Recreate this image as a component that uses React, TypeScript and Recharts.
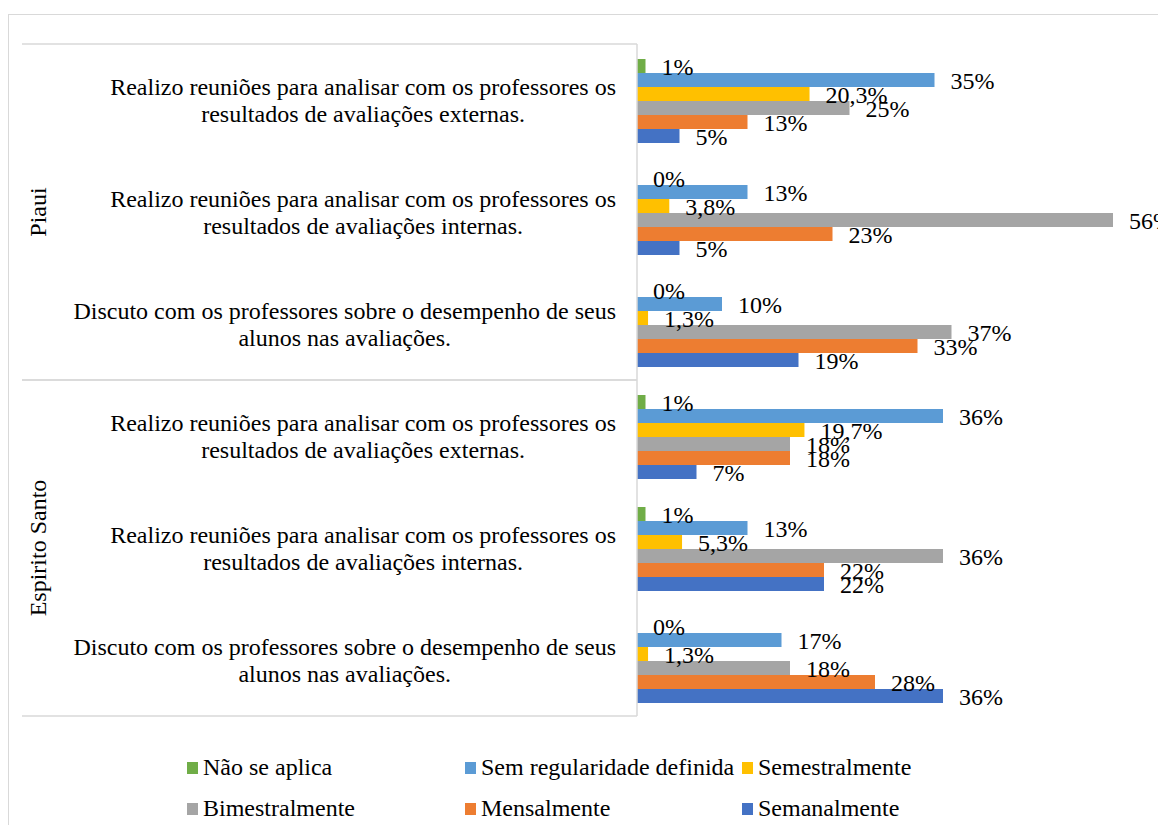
import React from "react";
import { BarChart, Bar, XAxis, YAxis, LabelList } from "recharts";

// categories (top to bottom), with line break for the two-line axis labels
const categoryIds = ["pi-ext", "pi-int", "pi-disc", "es-ext", "es-int", "es-disc"];
const categoryLabels = [
  "Realizo reuniões para analisar com os professores os\nresultados de avaliações externas.",
  "Realizo reuniões para analisar com os professores os\nresultados de avaliações internas.",
  "Discuto com os professores sobre o desempenho de seus\nalunos nas avaliações.",
  "Realizo reuniões para analisar com os professores os\nresultados de avaliações externas.",
  "Realizo reuniões para analisar com os professores os\nresultados de avaliações internas.",
  "Discuto com os professores sobre o desempenho de seus\nalunos nas avaliações.",
];
const categoryState = ["Piaui", "Piaui", "Piaui", "Espirito Santo", "Espirito Santo", "Espirito Santo"];

// series values (%), one entry per category
const naoSeAplica = [1, 0, 0, 1, 1, 0];
const semRegularidade = [35, 13, 10, 36, 13, 17];
const semestralmente = [20.3, 3.8, 1.3, 19.7, 5.3, 1.3];
const bimestralmente = [25, 56, 37, 18, 36, 18];
const mensalmente = [13, 23, 33, 18, 22, 28];
const semanalmente = [5, 5, 19, 7, 22, 36];

const series = [
  { key: "nao", name: "Não se aplica", color: "#70AD47", values: naoSeAplica },
  { key: "sem", name: "Sem regularidade definida", color: "#5B9BD5", values: semRegularidade },
  { key: "semestral", name: "Semestralmente", color: "#FFC000", values: semestralmente },
  { key: "bimestral", name: "Bimestralmente", color: "#A5A5A5", values: bimestralmente },
  { key: "mensal", name: "Mensalmente", color: "#ED7D31", values: mensalmente },
  { key: "semanal", name: "Semanalmente", color: "#4472C4", values: semanalmente },
];

const data = categoryIds.map((id, i) => {
  const row: Record<string, string | number> = { id };
  series.forEach((s) => (row[s.key] = s.values[i]));
  return row;
});

const FONT = "'Liberation Serif', 'Times New Roman', serif";
const FS = 24;
const W = 1157;
const H = 810;
const MARGIN = { top: 29, right: 53, bottom: 109, left: 0 };
const AXIS_W = 628;
const BAND = (H - MARGIN.top - MARGIN.bottom) / categoryIds.length;
const LINE = "#d9d9d9";

let ctx: CanvasRenderingContext2D | null = null;
function textWidth(s: string) {
  if (!ctx) ctx = document.createElement("canvas").getContext("2d");
  if (!ctx) return s.length * 11;
  ctx.font = `${FS}px 'Liberation Serif'`;
  return ctx.measureText(s).width;
}

const fmt = (v: any) => `${String(v).replace(".", ",")}%`;

function CategoryTick(props: any) {
  const { y, payload } = props;
  const idx = categoryIds.indexOf(payload.value);
  const lines = categoryLabels[idx].split("\n");
  const right = AXIS_W - 21;
  const blockW = Math.max(...lines.map(textWidth));
  const cx = right - blockW / 2;
  const state = categoryState[idx];
  const members = categoryState.map((s, i) => (s === state ? i : -1)).filter((i) => i >= 0);
  const first = members[0] === idx;
  const last = members[members.length - 1] === idx;
  const mid = members.reduce((a, b) => a + b, 0) / members.length;
  const showState = Math.floor(mid) === idx;
  return (
    <g>
      {lines.map((l, i) => (
        <text
          key={i}
          x={cx}
          y={y + (i - (lines.length - 1) / 2) * 27}
          textAnchor="middle"
          dominantBaseline="central"
          fontFamily={FONT}
          fontSize={FS}
          fill="#000"
        >
          {l}
        </text>
      ))}
      {first && <line x1={13} x2={AXIS_W} y1={y - BAND / 2} y2={y - BAND / 2} stroke={LINE} strokeWidth={1.5} />}
      {last && <line x1={13} x2={AXIS_W} y1={y + BAND / 2} y2={y + BAND / 2} stroke={LINE} strokeWidth={1.5} />}
      {showState && (
        <text
          x={29}
          y={y + (mid - idx) * BAND}
          transform={`rotate(-90 29 ${y + (mid - idx) * BAND})`}
          textAnchor="middle"
          dominantBaseline="central"
          fontFamily={FONT}
          fontSize={FS}
          fill="#000"
        >
          {state}
        </text>
      )}
    </g>
  );
}

export default function App() {
  return (
    <div style={{ paddingTop: 6 }}>
      <div
        style={{
          position: "relative",
          overflow: "hidden",
          width: W,
          height: H,
          borderTop: `1px solid ${LINE}`,
          borderLeft: `1px solid ${LINE}`,
          background: "#fff",
        }}
      >
        <BarChart width={W} height={H} data={data} layout="vertical" margin={MARGIN} barCategoryGap={15} barGap={0}>
          <XAxis type="number" domain={[0, 56]} hide />
          <YAxis
            type="category"
            dataKey="id"
            width={AXIS_W}
            interval={0}
            tickLine={false}
            axisLine={{ stroke: LINE, strokeWidth: 1.5 }}
            tick={<CategoryTick />}
          />
          {series.map((s) => (
            <Bar
              key={s.key}
              dataKey={s.key}
              name={s.name}
              fill={s.color}
              minPointSize={0.01}
              isAnimationActive={false}
            >
              <LabelList
                dataKey={s.key}
                position="right"
                offset={16}
                formatter={fmt}
                fill="#000"
                fontFamily={FONT}
                fontSize={FS}
              />
            </Bar>
          ))}
        </BarChart>
        <div
          style={{
            position: "absolute",
            left: 178,
            top: 732,
            display: "grid",
            gridTemplateColumns: "278px 277px 278px",
            gridAutoRows: "41px",
            fontFamily: FONT,
            fontSize: FS,
            color: "#000",
          }}
        >
          {series.map((s) => (
            <div key={s.key} style={{ display: "flex", alignItems: "center", whiteSpace: "nowrap" }}>
              <span style={{ width: 11, height: 12, background: s.color, marginRight: 5, display: "inline-block" }} />
              <span>{s.name}</span>
            </div>
          ))}
        </div>
      </div>
    </div>
  );
}
